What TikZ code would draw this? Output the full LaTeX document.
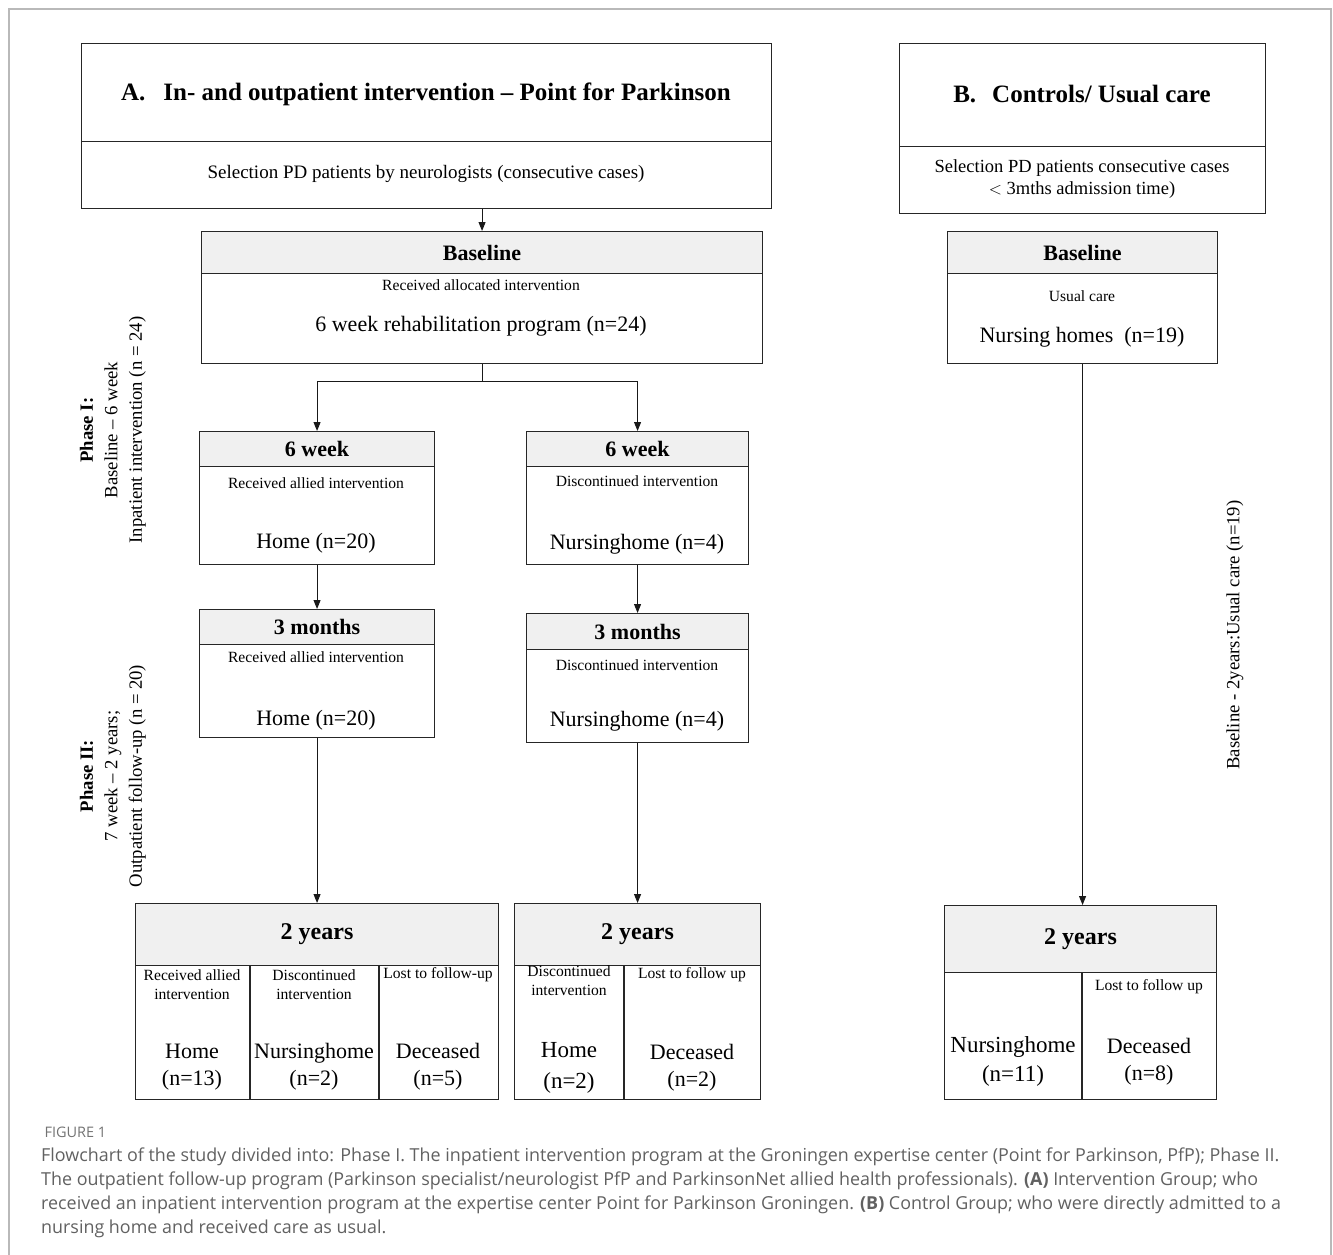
\documentclass[tikz,border=0pt]{standalone}
\usepackage{fontspec}
\setmainfont{Liberation Serif}
\newfontfamily\capfont{Open Sans}
\usetikzlibrary{arrows.meta,positioning,calc}

\begin{document}
\begin{tikzpicture}[x=1pt,y=-1pt]
  \tikzstyle{box} = [rectangle, draw=black!85, line width=1.1pt, anchor=north west, inner sep=0pt]
  \tikzstyle{head} = [box, fill=gray!12]
  \tikzstyle{arr} = [-{Triangle[length=9pt,width=7pt]}, line width=1pt, black!90]
  \tikzstyle{small} = [font=\fontsize{15.6}{19}\selectfont, align=center]
  \tikzstyle{big} = [font=\fontsize{22}{27}\selectfont, align=center]
  \tikzstyle{hd} = [font=\bfseries\fontsize{22}{25}\selectfont]
  \tikzstyle{title} = [font=\bfseries\fontsize{25}{28}\selectfont]
  \tikzstyle{side} = [rotate=90, align=center, font=\fontsize{18.7}{24.5}\selectfont]

  \useasboundingbox (0,0) rectangle (1333,1254);
  \draw[gray!55, line width=1.2pt] (9,9) rectangle (1331,1270);

  % group A, top
  \node (boxA) [box, minimum width=690, minimum height=165] at (81,43) {};
  \node (boxAh) [box, minimum width=690, minimum height=98] at (81,43) {};
  \node (titA) [title] at (426,94) {A.\hspace{18pt}In- and outpatient intervention -- Point for Parkinson};
  \node (subA) [font=\fontsize{19}{22}\selectfont] at (426,174) {Selection PD patients by neurologists (consecutive cases)};

  % group B, top
  \node (boxB) [box, minimum width=366, minimum height=170] at (899,43) {};
  \node (boxBh) [box, minimum width=366, minimum height=103] at (899,43) {};
  \node (titB) [title] at (1082,94) {B.\hspace{16pt}Controls/ Usual care};
  \node (subB) [align=center, font=\fontsize{18.5}{22}\selectfont] at (1082,179) {Selection PD patients consecutive cases\\$<$ 3mths admission time)};

  % baseline
  \node (blA) [box, minimum width=561, minimum height=132] at (201,231) {};
  \node (blAh) [head, minimum width=561, minimum height=42] at (201,231) {};
  \node [hd] at (blAh.center) {Baseline};
  \node [small] at (481,285) {Received allocated intervention};
  \node [big] at (481,326) {6 week rehabilitation program (n=24)};

  \node (blB) [box, minimum width=270, minimum height=132] at (947,231) {};
  \node (blBh) [head, minimum width=270, minimum height=42] at (947,231) {};
  \node [hd] at (blBh.center) {Baseline};
  \node [small] at (1082,296) {Usual care};
  \node [big] at (1082,337) {Nursing homes\ \ (n=19)};

  % 6 week
  \node (wkL) [box, minimum width=235, minimum height=133] at (199,431) {};
  \node (wkLh) [head, minimum width=235, minimum height=35] at (199,431) {};
  \node [hd] at (wkLh.center) {6 week};
  \node [small] at (316,483) {Received allied intervention};
  \node [big] at (316,543) {Home (n=20)};

  \node (wkR) [box, minimum width=222, minimum height=133] at (526,431) {};
  \node (wkRh) [head, minimum width=222, minimum height=35] at (526,431) {};
  \node [hd] at (wkRh.center) {6 week};
  \node [small] at (637,481) {Discontinued intervention};
  \node [big] at (637,544) {Nursinghome (n=4)};

  % 3 months
  \node (moL) [box, minimum width=235, minimum height=128] at (199,609) {};
  \node (moLh) [head, minimum width=235, minimum height=35] at (199,609) {};
  \node [hd] at (moLh.center) {3 months};
  \node [small] at (316,657) {Received allied intervention};
  \node [big] at (316,720) {Home (n=20)};

  \node (moR) [box, minimum width=222, minimum height=129] at (526,613) {};
  \node (moRh) [head, minimum width=222, minimum height=36] at (526,613) {};
  \node [hd] at (moRh.center) {3 months};
  \node [small] at (637,665) {Discontinued intervention};
  \node [big] at (637,721) {Nursinghome (n=4)};

  % 2 years
  \node (yrL) [box, minimum width=363, minimum height=196] at (135,903) {};
  \node (yrLh) [head, minimum width=363, minimum height=62] at (135,903) {};
  \node [hd, font=\bfseries\fontsize{24}{27}\selectfont] at (yrLh.center) {2 years};
  \draw[black!85, line width=1.1pt] (250,965) -- (250,1099) (379,965) -- (379,1099);
  \node [small] at (192,985) {Received allied\\intervention};
  \node [small] at (314,985) {Discontinued\\intervention};
  \node [small] at (438,975) {Lost to follow-up};
  \node [big] at (192,1067) {Home\\(n=13)};
  \node [big] at (314,1067) {Nursinghome\\(n=2)};
  \node [big] at (438,1067) {Deceased\\(n=5)};

  \node (yrM) [box, minimum width=246, minimum height=196] at (514,903) {};
  \node (yrMh) [head, minimum width=246, minimum height=62] at (514,903) {};
  \node [hd, font=\bfseries\fontsize{24}{27}\selectfont] at (yrMh.center) {2 years};
  \draw[black!85, line width=1.1pt] (624,965) -- (624,1099);
  \node [small] at (569,981) {Discontinued\\intervention};
  \node [small] at (692,975) {Lost to follow up};
  \node [big, font=\fontsize{23}{31}\selectfont] at (569,1068) {Home\\(n=2)};
  \node [big] at (692,1068) {Deceased\\(n=2)};

  \node (yrB) [box, minimum width=272, minimum height=194] at (944,905) {};
  \node (yrBh) [head, minimum width=272, minimum height=67] at (944,905) {};
  \node [hd, font=\bfseries\fontsize{24}{27}\selectfont] at (yrBh.center) {2 years};
  \draw[black!85, line width=1.1pt] (1082,972) -- (1082,1099);
  \node [small] at (1149,987) {Lost to follow up};
  \node [big, font=\fontsize{23}{29}\selectfont] at (1013,1061) {Nursinghome\\(n=11)};
  \node [big] at (1149,1062) {Deceased\\(n=8)};

  % connectors
  \draw[arr] (blA.north |- boxA.south) -- (blA.north);
  \draw[line width=1pt, black!90] (blA.south) -- ++(0,17) coordinate (split);
  \draw[arr] (split) -| (wkL.north);
  \draw[arr] (split) -| (wkR.north);
  \draw[arr] (wkL.south) -- (moL.north);
  \draw[arr] (wkR.south) -- (moR.north);
  \draw[arr] (moL.south) -- (moL.south |- yrL.north);
  \draw[arr] (moR.south) -- (moR.south |- yrM.north);
  \draw[arr] (blB.south) -- (blB.south |- yrB.north);

  % phase labels
  \node (ph1) [side] at (113,430) {\textbf{Phase I:}\\Baseline -- 6 week\\Inpatient intervention (n = 24)};
  \node (ph2) [side] at (113,776) {\textbf{Phase II:}\\7 week -- 2 years;\\Outpatient follow-up (n = 20)};
  \node (phB) [side] at (1235,635) {Baseline - 2years:Usual care (n=19)};

  % caption
  \node (figno) [anchor=west, text=black!55, font=\capfont\fontsize{14.5}{16}\selectfont] at (41,1132) {FIGURE 1};
  \node (cap) [anchor=north west, align=left, inner sep=0pt, text=black!62, font=\capfont\fontsize{17.9}{23.7}\selectfont] at (41,1148)
    {Flowchart of the study divided into: Phase I. The inpatient intervention program at the Groningen expertise center (Point for Parkinson, PfP); Phase II.\\
     The outpatient follow-up program (Parkinson specialist/neurologist PfP and ParkinsonNet allied health professionals). \textbf{(A)} Intervention Group; who\\
     received an inpatient intervention program at the expertise center Point for Parkinson Groningen. \textbf{(B)} Control Group; who were directly admitted to a\\
     nursing home and received care as usual.};
\end{tikzpicture}
\end{document}
